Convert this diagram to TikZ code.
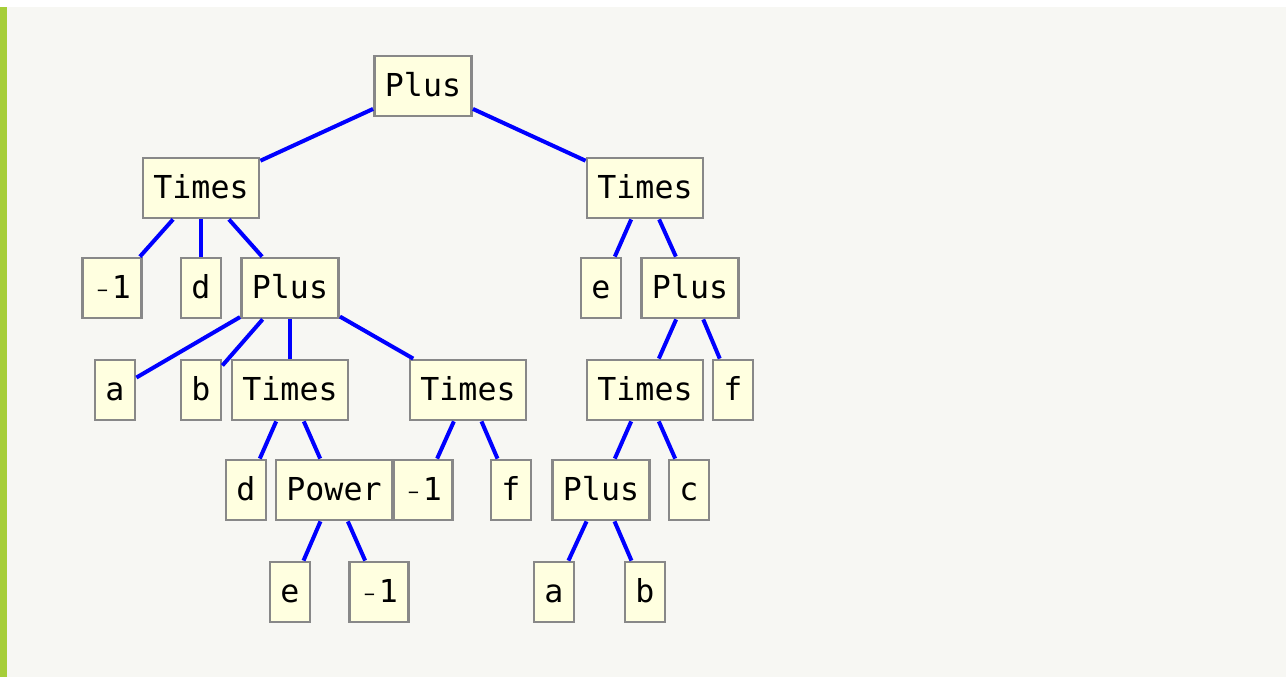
\documentclass[tikz,border=0pt]{standalone}
\usepackage{fontspec}
\setmonofont{DejaVu Sans Mono}
\usepackage{xcolor}
\usepackage{tikz}
\usetikzlibrary{positioning}
\definecolor{cbg}{HTML}{F7F7F3}
\definecolor{cbar}{HTML}{A6CE39}
\definecolor{cbox}{HTML}{FFFFE0}
\definecolor{cedge}{HTML}{888888}
\definecolor{cline}{HTML}{0000FF}
\newcommand{\negone}{\makebox[19pt]{\raisebox{2pt}{\fontsize{18}{18}\selectfont\char"2212}}1}

\begin{document}
\begin{tikzpicture}[
    x=1pt, y=-1pt,
    font=\ttfamily\fontsize{31.6}{36}\selectfont,
    term/.style={
        rectangle, draw=cedge, line width=2.8pt, fill=cbox,
        minimum height=60pt, inner xsep=10.5pt, inner ysep=0pt,
        text height=23pt, text depth=3pt
    },
    link/.style={draw=cline, line width=4pt},
]

% =====================================================================
% FRAME: white strip on top, green bar on the left, pale page
% =====================================================================
\useasboundingbox (0,0) rectangle (1286,677);
\fill[white] (0,0) rectangle (1286,7);
\fill[cbg]   (0,7) rectangle (1286,677);
\fill[cbar]  (0,7) rectangle (7,677);

% --- Level 0 / 1 ------------------------------------------------------
\node[term] (root)  at (423, 86)  {Plus};
\node[term] (tL)    at (201,188)  {Times};
\node[term] (tR)    at (645,188)  {Times};

% --- Level 2 ------------------------------------------------------------
\node[term] (m1L)   at (112,288)  {\negone};
\node[term] (dL)    at (201,288)  {d};
\node[term] (pL)    at (290,288)  {Plus};
\node[term] (eR)    at (601,288)  {e};
\node[term] (pR)    at (690,288)  {Plus};

% --- Level 3 ------------------------------------------------------------
\node[term] (aL)    at (115,390)  {a};
\node[term] (bL)    at (201,390)  {b};
\node[term] (tLL)   at (290,390)  {Times};
\node[term] (tLR)   at (468,390)  {Times};
\node[term] (tRR)   at (645,390)  {Times};
\node[term] (fR)    at (733,390)  {f};

% --- Level 4 ------------------------------------------------------------
\node[term] (dLL)   at (246,490)  {d};
\node[term] (pow)   at (334,490)  {Power};
\node[term] (m1M)   at (423,490)  {\negone};
\node[term] (fM)    at (511,490)  {f};
\node[term] (pRR)   at (601,490)  {Plus};
\node[term] (cR)    at (689,490)  {c};

% --- Level 5 ------------------------------------------------------------
\node[term] (ePow)  at (290,592)  {e};
\node[term] (m1Pow) at (379,592)  {\negone};
\node[term] (aR)    at (554,592)  {a};
\node[term] (bR)    at (645,592)  {b};

% =====================================================================
% Links (parent -> child, cut at the box borders)
% =====================================================================
\draw[link] (root) -- (tL);
\draw[link] (root) -- (tR);
\draw[link] (tL)   -- (m1L);
\draw[link] (tL)   -- (dL);
\draw[link] (tL)   -- (pL);
\draw[link] (tR)   -- (eR);
\draw[link] (tR)   -- (pR);
\draw[link] (pL)   -- (aL);
\draw[link] (pL)   -- (bL);
\draw[link] (pL)   -- (tLL);
\draw[link] (pL)   -- (tLR);
\draw[link] (pR)   -- (tRR);
\draw[link] (pR)   -- (fR);
\draw[link] (tLL)  -- (dLL);
\draw[link] (tLL)  -- (pow);
\draw[link] (tLR)  -- (m1M);
\draw[link] (tLR)  -- (fM);
\draw[link] (tRR)  -- (pRR);
\draw[link] (tRR)  -- (cR);
\draw[link] (pow)  -- (ePow);
\draw[link] (pow)  -- (m1Pow);
\draw[link] (pRR)  -- (aR);
\draw[link] (pRR)  -- (bR);

\end{tikzpicture}
\end{document}
